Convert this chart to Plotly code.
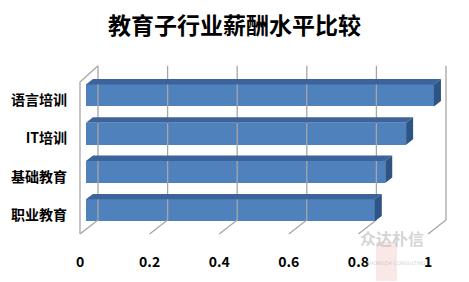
import plotly.graph_objects as go

# ---- data ----
categories = ["语言培训", "IT培训", "基础教育", "职业教育"]
values = [1.0, 0.92, 0.86, 0.83]
x_ticks = [0, 0.2, 0.4, 0.6, 0.8, 1.0]
x_tick_labels = ["0", "0.2", "0.4", "0.6", "0.8", "1"]
title_text = "教育子行业薪酬水平比较"

# ---- layout / pseudo-3D projection constants ----
W, H = 469, 282
PX_PER_VAL = 348.0          # horizontal pixels per value unit
X0_PX = 80.0                # pixel position of value 0 on the front plane
CAT0_PX = 100.0             # pixel centre of first category
CAT_STEP_PX = 38.33         # pixels per category
ML, MB = 74, 30             # margins
DDX = 18.0 / PX_PER_VAL     # depth shift (value units)
DDY = 14.0 / CAT_STEP_PX    # depth shift (category units)
TOP_Y = (82 - CAT0_PX) / CAT_STEP_PX
FLOOR_Y = (234 - CAT0_PX) / CAT_STEP_PX
HALF_H = 11.0 / CAT_STEP_PX
D1, D2 = 0.33, 0.72

def proj(v, y, d):
    return v + d * DDX, y - d * DDY

GRID = "#a6a6a6"
FRONT = "#4F81BD"
TOPC = "#3C649A"
SIDEC = "#2E5486"

fig = go.Figure()

# walls / floor lines
gx, gy = [], []
for v in x_ticks:
    a = proj(v, TOP_Y - 0.06, 1); b = proj(v, FLOOR_Y, 1); c = proj(v, FLOOR_Y, 0)
    gx += [a[0], b[0], c[0], None]
    gy += [a[1], b[1], c[1], None]
# left wall
p1 = proj(0, FLOOR_Y, 0); p2 = proj(0, TOP_Y, 0); p3 = proj(0, TOP_Y - 0.06, 1)
gx += [p1[0], p2[0], p3[0], None]
gy += [p1[1], p2[1], p3[1], None]
fig.add_trace(go.Scatter(x=gx, y=gy, mode="lines", line=dict(color=GRID, width=1.3),
                         hoverinfo="skip", showlegend=False))

# bars: front faces
idx = list(range(len(categories)))
fig.add_trace(go.Bar(
    y=[i - D1 * DDY for i in idx], x=values, base=[D1 * DDX] * len(values),
    orientation="h", width=2 * HALF_H, marker=dict(color=FRONT, line=dict(width=0)),
    showlegend=False, hoverinfo="skip"))

# top and side faces
tx, ty, sx, sy = [], [], [], []
for i, v in zip(idx, values):
    yt, yb = i - HALF_H, i + HALF_H
    pts = [proj(0, yt, D1), proj(v, yt, D1), proj(v, yt, D2), proj(0, yt, D2), proj(0, yt, D1)]
    tx += [p[0] for p in pts] + [None]
    ty += [p[1] for p in pts] + [None]
    pts = [proj(v, yt, D1), proj(v, yb, D1), proj(v, yb, D2), proj(v, yt, D2), proj(v, yt, D1)]
    sx += [p[0] for p in pts] + [None]
    sy += [p[1] for p in pts] + [None]
fig.add_trace(go.Scatter(x=tx, y=ty, mode="lines", fill="toself", fillcolor=TOPC,
                         line=dict(width=0, color=TOPC), hoverinfo="skip", showlegend=False))
fig.add_trace(go.Scatter(x=sx, y=sy, mode="lines", fill="toself", fillcolor=SIDEC,
                         line=dict(width=0, color=SIDEC), hoverinfo="skip", showlegend=False))

x_range = [(ML - X0_PX) / PX_PER_VAL, (W - X0_PX) / PX_PER_VAL]
y_range = [((H - MB) - CAT0_PX) / CAT_STEP_PX, (0 - CAT0_PX) / CAT_STEP_PX]

font_cjk = "Noto Sans CJK SC, Noto Sans, sans-serif"
fig.update_layout(
    width=W, height=H, margin=dict(l=ML, r=0, t=0, b=MB),
    paper_bgcolor="white", plot_bgcolor="white",
    title=dict(text="<b>" + title_text + "</b>", x=0.5, xanchor="center",
               y=1 - 26 / H, yanchor="middle", yref="container",
               font=dict(family=font_cjk, size=23, color="#000000")),
    xaxis=dict(range=x_range, tickvals=x_ticks, ticktext=["<b>%s</b>" % t for t in x_tick_labels],
               showgrid=False, zeroline=False, showline=False, ticks="",
               tickfont=dict(family=font_cjk, size=14, color="#000000"), fixedrange=True),
    yaxis=dict(range=y_range, tickvals=idx, ticktext=["<b>%s</b>" % c for c in categories],
               showgrid=False, zeroline=False, showline=False, ticks="",
               ticklabelstandoff=6,
               tickfont=dict(family=font_cjk, size=14, color="#000000"), fixedrange=True),
    bargap=0,
)

# watermark (decoration)
def px_x(p):
    return (p - ML) / (W - ML)

def px_y(p):
    return 1 - p / (H - MB)

fig.add_shape(type="rect", xref="paper", yref="paper", layer="above",
              x0=px_x(376), x1=px_x(397), y0=px_y(281), y1=px_y(242),
              fillcolor="rgba(230,150,150,0.22)", line=dict(width=0))
fig.add_annotation(xref="paper", yref="paper", x=px_x(426), y=px_y(252),
                   text="<b>众达朴信</b>", showarrow=False,
                   font=dict(family=font_cjk, size=16, color="rgba(170,170,170,0.5)"))
fig.add_annotation(xref="paper", yref="paper", x=px_x(428), y=px_y(268),
                   text="ZHONGDA CONSULTING", showarrow=False,
                   font=dict(family="DejaVu Sans", size=5, color="rgba(170,170,170,0.55)"))

fig.write_html("out.html")
